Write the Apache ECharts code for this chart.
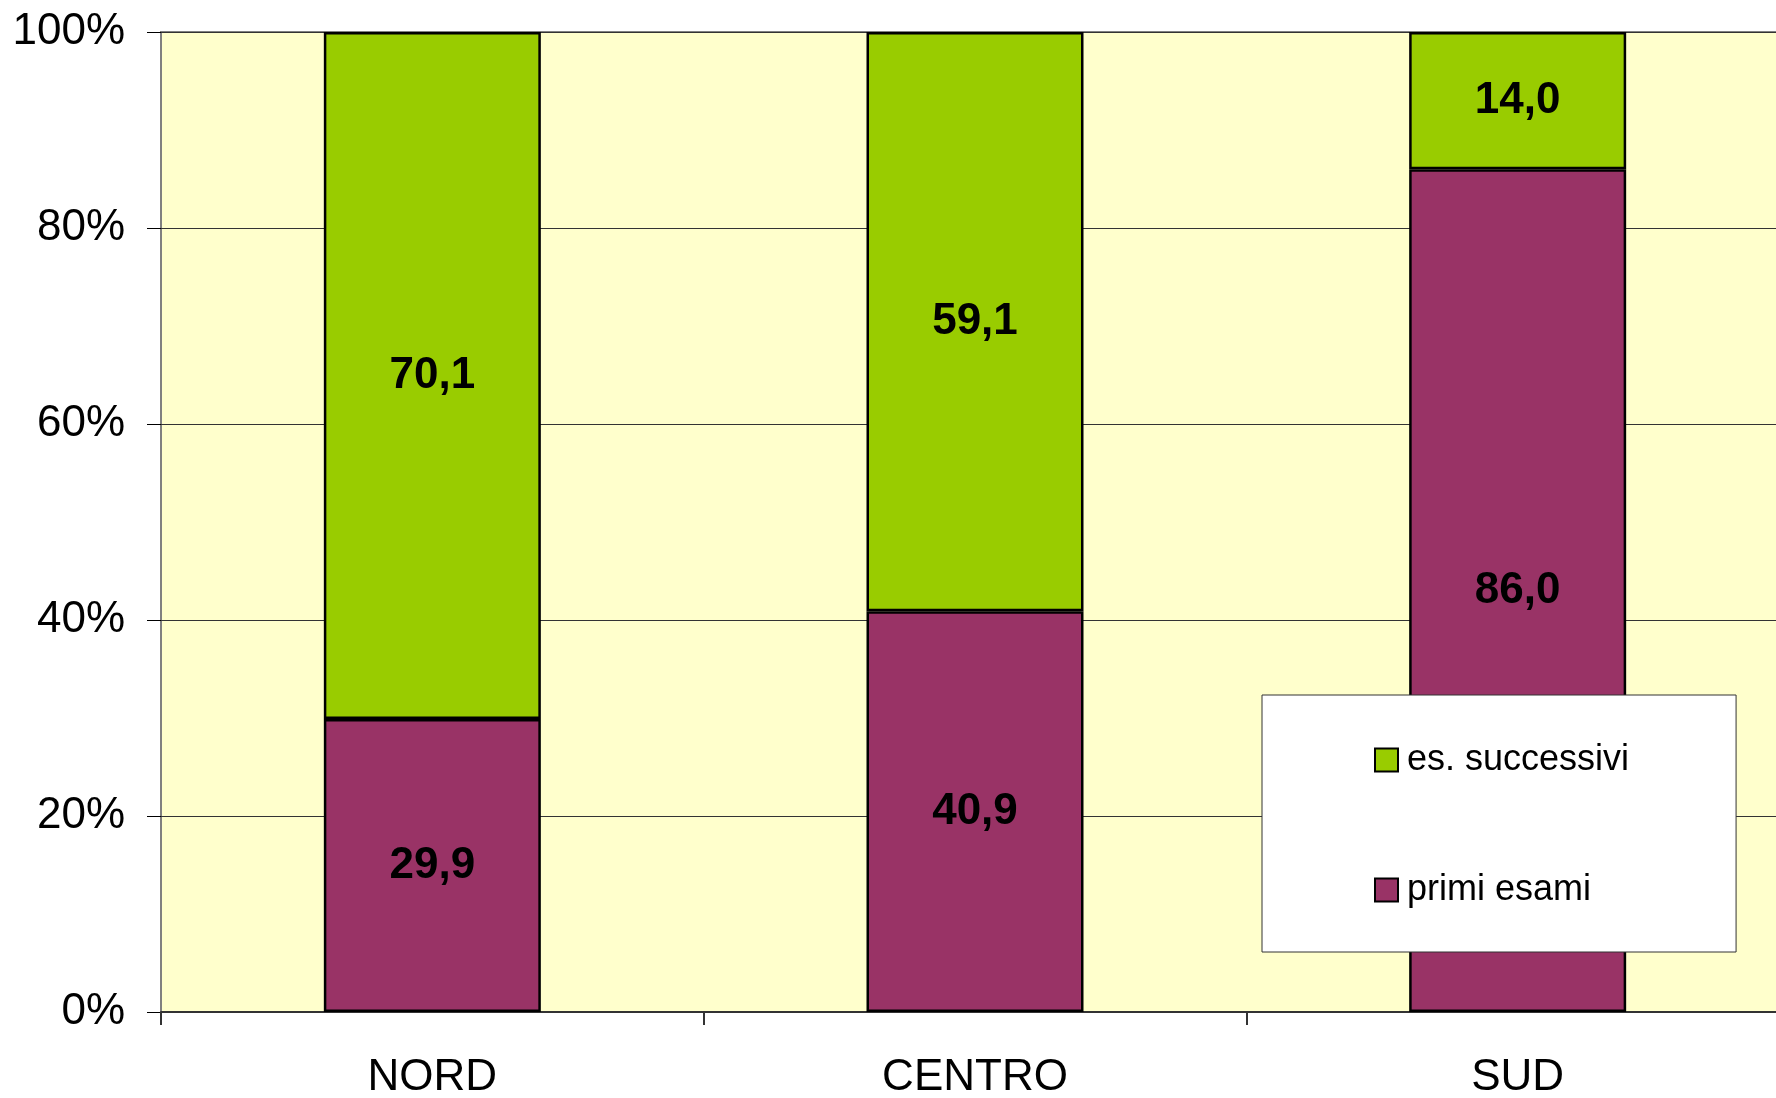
<!DOCTYPE html>
<html>
<head>
<meta charset="utf-8">
<script src="https://cdn.jsdelivr.net/npm/echarts@6/dist/echarts.min.js"></script>
<style>
  html, body { margin: 0; padding: 0; background: #fff; }
  #chart { width: 1776px; height: 1098px; }
</style>
</head>
<body>
<div id="chart"></div>
<script>
// categorie e valori (percentuali)
var categories = ['NORD', 'CENTRO', 'SUD']
var primiEsami = [29.9, 40.9, 86.0]
var esSuccessivi = [70.1, 59.1, 14.0]
var yTicks = [0, 20, 40, 60, 80, 100]

var font = '"Liberation Sans", Arial, sans-serif'

function fmt (p) {
  return p.value.toFixed(1).replace('.', ',')
}

var option = {
  animation: false,
  textStyle: { fontFamily: font },
  grid: {
    left: 161,
    top: 32,
    right: -13,
    bottom: 86,
    outerBoundsMode: 'none',
    containLabel: false,
    show: true,
    backgroundColor: '#FFFFCC',
    borderColor: '#808080',
    borderWidth: 2
  },
  legend: {
    data: ['es. successivi', 'primi esami'],
    orient: 'vertical',
    left: 1262,
    top: 695,
    padding: [47, 107, 44, 112],
    itemWidth: 23,
    itemHeight: 23,
    itemGap: 94,
    backgroundColor: '#fff',
    borderColor: '#333',
    borderWidth: 1,
    icon: 'rect',
    itemStyle: { borderColor: '#000', borderWidth: 2 },
    textStyle: {
      fontFamily: font,
      fontSize: 36,
      lineHeight: 36,
      color: '#000',
      padding: [0, 0, 0, 4]
    }
  },
  xAxis: {
    type: 'category',
    data: categories,
    axisLine: { show: true, lineStyle: { color: '#333', width: 2 } },
    axisTick: { show: true, length: 13, lineStyle: { color: '#333', width: 2 } },
    axisLabel: { fontFamily: font, fontSize: 44, color: '#000', margin: 44 }
  },
  yAxis: {
    type: 'value',
    min: yTicks[0],
    max: yTicks[yTicks.length - 1],
    interval: 20,
    axisLine: { show: false },
    axisTick: { show: true, length: 14, lineStyle: { color: '#000', width: 1 } },
    axisLabel: {
      fontFamily: font,
      fontSize: 44,
      color: '#000',
      margin: 36,
      formatter: '{value}%'
    },
    splitLine: { show: true, lineStyle: { color: '#333', width: 1 } }
  },
  series: [
    {
      name: 'primi esami',
      type: 'bar',
      stack: 'tot',
      barWidth: 217,
      data: primiEsami,
      itemStyle: { color: '#993366', borderColor: '#000', borderWidth: 2.5 },
      label: {
        show: true,
        position: 'inside',
        formatter: fmt,
        fontFamily: font,
        fontSize: 44,
        fontWeight: 'bold',
        color: '#000'
      }
    },
    {
      name: 'es. successivi',
      type: 'bar',
      stack: 'tot',
      barWidth: 217,
      data: esSuccessivi,
      itemStyle: { color: '#99CC00', borderColor: '#000', borderWidth: 2.5 },
      label: {
        show: true,
        position: 'inside',
        formatter: fmt,
        fontFamily: font,
        fontSize: 44,
        fontWeight: 'bold',
        color: '#000'
      }
    }
  ]
}

var myChart = echarts.init(document.getElementById('chart'))
myChart.setOption(option)
</script>
</body>
</html>
